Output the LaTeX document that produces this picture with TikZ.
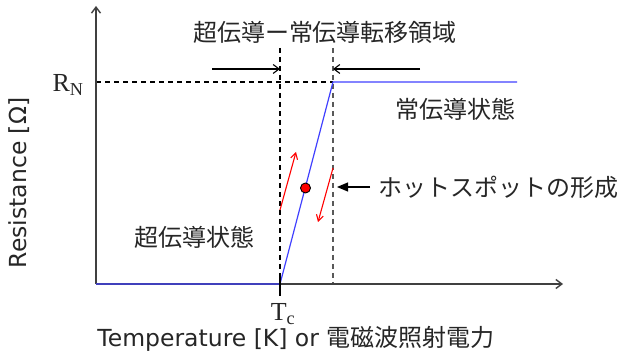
\documentclass[tikz,border=0pt]{standalone}
\usepackage{fontspec}
\setmainfont{DejaVu Sans}
\newfontfamily\jp{Noto Sans CJK JP}
\newfontfamily\tms{Liberation Serif}
\usetikzlibrary{arrows.meta}
\begin{document}
\begin{tikzpicture}[x=1pt,y=-1pt,
  axis/.style={draw=black!75,line width=1.4pt,-{Straight Barb[length=6pt,width=9pt]}},
  guide/.style={line width=1.1pt,dash pattern=on 5pt off 4pt},
  curve/.style={draw=blue!75,line width=1.2pt},
  redarr/.style={red,line width=1.1pt,-{Straight Barb[length=6pt,width=7pt]}},
  blkarr/.style={black,line width=1.1pt,-{Straight Barb[length=6pt,width=9pt]}},
  jlabel/.style={font=\jp\fontsize{24}{28}\selectfont,text=black!85,inner sep=0pt},
  lab/.style={font=\fontsize{23.5}{28}\selectfont,text=black!85,inner sep=0pt},
  serif/.style={font=\tms\fontsize{26}{30}\selectfont,text=black!85,inner sep=0pt}]
\useasboundingbox (0,0) rectangle (622,358);
% coordinates
\coordinate (O) at (96,284);
\coordinate (ytop) at (96,6);
\coordinate (xend) at (563,284);
\coordinate (tc) at (280,284);
\coordinate (tn) at (333,82);
\coordinate (rn) at (96,82);
\coordinate (nend) at (517,82);
\coordinate (tcTop) at (280,48);
\coordinate (tnTop) at (333,48);
\coordinate (tnBot) at (333,284);
% dashed guides
\draw[guide,black] (rn) -- (tn);
\draw[guide,black] (tcTop) -- (tc);
\draw[guide,black!65] (tnTop) -- (tnBot);
% axes
\draw[axis] (O) -- (ytop);
\draw[axis] (O) -- (xend);
% curve
\draw[curve] (O) -- (tc) -- (tn) -- (nend);
% Tc tick
\coordinate (tick1) at (280,277);
\coordinate (tick2) at (280,296);
\draw[black,line width=2.6pt] (tick1) -- (tick2);
% transition arrows
\coordinate (a1s) at (212,69);
\coordinate (a1e) at (280,69);
\coordinate (a2s) at (420,69);
\coordinate (a2e) at (333,69);
\draw[blkarr] (a1s) -- (a1e);
\draw[blkarr] (a2s) -- (a2e);
% red arrows
\coordinate (r1s) at (280,210);
\coordinate (r1e) at (296,152);
\coordinate (r2s) at (333,168);
\coordinate (r2e) at (318,222);
\draw[redarr] (r1s) -- (r1e);
\draw[redarr] (r2s) -- (r2e);
% hot spot
\node[circle,fill=red,draw=black,line width=0.9pt,minimum size=10pt,inner sep=0pt] (hs) at (305.5,188) {};
\node[jlabel,anchor=west] (hst) at (378,187) {ホットスポットの形成};
\coordinate (hsa) at (337,187);
\coordinate (hsb) at (370,187);
\draw[black,line width=1.2pt,-{Triangle[length=11pt,width=9pt]}] (hsb) -- (hsa);
% labels
\node[jlabel] (title) at (325,32) {超伝導ー常伝導転移領域};
\node[jlabel] (normal) at (455,109) {常伝導状態};
\node[jlabel] (sc) at (194,237) {超伝導状態};
\node[serif] (rnl) at (68,85) {R\textsubscript{N}};
\node[serif] (tcl) at (283,314) {T\textsubscript{c}};
\node[lab] (xl) at (296,339) {Temperature [K] or {\jp\fontsize{24}{28}\selectfont 電磁波照射電力}};
\node[lab,rotate=90] (yl) at (19,183) {Resistance [Ω]};
\end{tikzpicture}
\end{document}
